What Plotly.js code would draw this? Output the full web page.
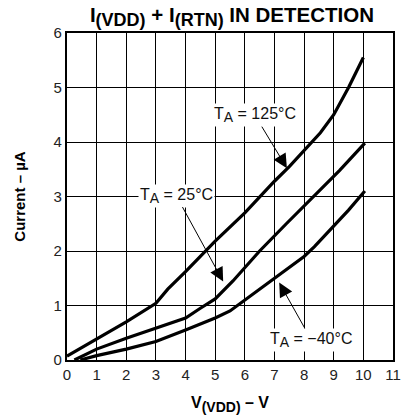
<!DOCTYPE html>
<html><head><meta charset="utf-8">
<script src="https://cdn.plot.ly/plotly-3.0.1.min.js"></script>
<style>html,body{margin:0;padding:0;background:#fff}#c{width:402px;height:419px}</style>
</head><body><div id="c"></div>
<script>
const x125 = [0, 1, 2, 3, 3.4, 4, 4.7, 5, 6, 6.5, 7, 7.5, 8, 8.55, 9, 9.5, 10];
const y125 = [0.07, 0.38, 0.7, 1.04, 1.3, 1.62, 2.0, 2.18, 2.7, 3.0, 3.28, 3.55, 3.85, 4.17, 4.5, 5.0, 5.55];
const x25 = [0.25, 1, 2, 3, 4, 4.5, 5, 5.6, 6.5, 7.4, 8.3, 9.2, 10.05];
const y25 = [0.0, 0.2, 0.4, 0.58, 0.77, 0.95, 1.12, 1.45, 2.0, 2.5, 3.0, 3.48, 3.98];
const xm40 = [0.45, 1, 2, 3, 4, 5, 5.5, 6, 6.5, 7, 8, 8.35, 9, 9.5, 10.05];
const ym40 = [0.0, 0.08, 0.2, 0.34, 0.55, 0.77, 0.9, 1.1, 1.3, 1.5, 1.9, 2.08, 2.45, 2.75, 3.1];
const tempLabels = ["125°C", "25°C", "−40°C"];
const tips = [[7.42, 3.52], [5.27, 1.44], [7.16, 1.42]];
const offs = [[-32, -53], [-47, -86], [32, 57]];

const sub = (t, px) => '<sub><span style="font-size:' + px + 'px">' + t + '</span></sub>';
const line = {color: '#000', width: 3.2};
const traces = [
  {x: x125, y: y125, mode: 'lines', line: line, hoverinfo: 'skip'},
  {x: x25, y: y25, mode: 'lines', line: line, hoverinfo: 'skip'},
  {x: xm40, y: ym40, mode: 'lines', line: line, hoverinfo: 'skip'}
];
const F = '"Liberation Sans", Arial, sans-serif';
const annotations = tempLabels.map((t, i) => ({
  x: tips[i][0], y: tips[i][1], xref: 'x', yref: 'y',
  text: 'T' + sub('A', 14) + ' = ' + t, showarrow: true, ax: offs[i][0], ay: offs[i][1],
  arrowhead: 2, arrowsize: 2.8, arrowwidth: 1, arrowcolor: '#000', standoff: 0,
  bgcolor: '#fff', borderpad: 1,
  font: {family: F, size: 16, color: '#111'}
}));
const axisCommon = {
  showgrid: true, gridcolor: '#000', gridwidth: 1,
  showline: true, linecolor: '#000', linewidth: 2.2, mirror: true,
  zeroline: false, ticks: '', dtick: 1,
  tickfont: {family: F, size: 15, color: '#222'}
};
const layout = {
  width: 402, height: 419,
  margin: {l: 67, r: 9, t: 33, b: 59},
  paper_bgcolor: '#fff', plot_bgcolor: '#fff',
  showlegend: false,
  title: {text: '<b>I' + sub('(VDD)', 18) + ' + I' + sub('(RTN)', 18) + ' IN DETECTION</b>', font: {family: F, size: 20.5, color: '#000'}, x: 0.577, xanchor: 'center', y: 0.982, yanchor: 'top'},
  xaxis: Object.assign({}, axisCommon, {range: [0, 11], tick0: 0,
    title: {text: '<b>V' + sub('(VDD)', 14) + ' – V</b>', font: {family: F, size: 16, color: '#000'}, standoff: 15}}),
  yaxis: Object.assign({}, axisCommon, {range: [0, 6], tick0: 0,
    title: {text: '<b>Current – µA</b>', font: {family: F, size: 15, color: '#000'}, standoff: 24}}),
  annotations: annotations
};
Plotly.newPlot('c', traces, layout, {staticPlot: true, displayModeBar: false});
</script></body></html>
